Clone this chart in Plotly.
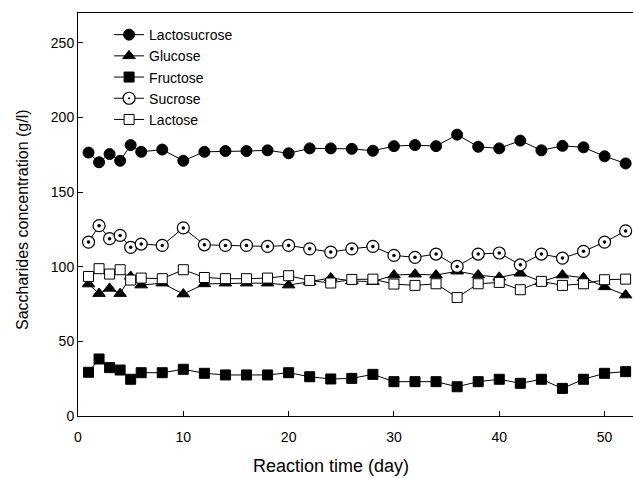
import plotly.graph_objects as go

days = [1, 2, 3, 4, 5, 6, 8, 10, 12, 14, 16, 18, 20, 22, 24, 26, 28, 30, 32, 34, 36, 38, 40, 42, 44, 46, 48, 50, 52]

lactosucrose = [176.5, 170, 175.5, 171, 181.5, 177, 178.5, 171, 177, 177.5, 177.5, 178, 176, 179.3, 179.3, 179, 177.7, 180.8, 181.5, 180.8, 188.5, 180.4, 179.3, 184.5, 178, 181, 180, 174, 169.2]
glucose = [88.4, 82, 85.5, 82, 93.5, 87.7, 89, 81.7, 88.5, 89, 89, 89, 87.7, 90, 92.5, 90.5, 90, 94.4, 95, 94.4, 97, 94.4, 92.9, 95.6, 90, 94.4, 92.6, 86.5, 81]
fructose = [29.3, 38.2, 32.4, 30.8, 24.6, 29, 29, 31.3, 28.6, 27.5, 27.5, 27.5, 29, 26.3, 24.8, 25.2, 27.9, 23, 23, 23, 19.6, 23, 24.6, 21.9, 24.6, 18.5, 24.6, 28.6, 29.7]
sucrose = [116.5, 127.5, 118.8, 121, 113, 115.2, 114.3, 126, 114.7, 114.3, 114.3, 113.6, 114.3, 112, 109.8, 112, 113.6, 107.6, 106.3, 108.5, 100.2, 108.5, 109.2, 101.3, 108.5, 105.8, 110.3, 116.5, 124]
lactose = [93.5, 98.7, 95.1, 98, 91.1, 92.4, 92, 98, 92.8, 92, 92, 92.4, 94, 90.8, 89.1, 91.5, 91.7, 88.4, 87.5, 88.6, 79.4, 88.6, 89.5, 84.6, 90.2, 87.5, 88.6, 91.3, 91.7]

names = ["Lactosucrose", "Glucose", "Fructose", "Sucrose", "Lactose"]
x_ticks = [0, 10, 20, 30, 40, 50]
y_ticks = [0, 50, 100, 150, 200, 250]
x_range = [0, 52.7]
y_range = [0, 270]

styles = [
    dict(symbol="circle", size=11, color="black", line=dict(color="black", width=1)),
    dict(symbol="triangle-up", size=11, color="black", line=dict(color="black", width=1)),
    dict(symbol="square", size=10, color="black", line=dict(color="black", width=1)),
    dict(symbol="circle-dot", size=12, color="white", line=dict(color="black", width=1.2)),
    dict(symbol="square", size=10, color="white", line=dict(color="black", width=1)),
]

fig = go.Figure()
for name, vals, st in zip(names, [lactosucrose, glucose, fructose, sucrose, lactose], styles):
    fig.add_trace(go.Scatter(
        x=days, y=vals, name=name, mode="lines+markers",
        line=dict(color="black", width=1),
        marker=st,
        cliponaxis=False,
    ))
    if name == "Sucrose":
        fig.add_trace(go.Scatter(
            x=days, y=vals, mode="markers", showlegend=False, hoverinfo="skip",
            marker=dict(symbol="circle", size=3.5, color="black"),
            cliponaxis=False,
        ))

# invisible trace on overlay axes so they render inside ticks
fig.add_trace(go.Scatter(x=[x_range[0]], y=[y_range[0]], xaxis="x2", yaxis="y2",
                         mode="markers", marker=dict(opacity=0), showlegend=False,
                         hoverinfo="skip"))

font = dict(family="Liberation Sans, Arial, sans-serif", color="black")

fig.update_layout(
    width=633, height=478,
    margin=dict(l=78, r=0, t=13, b=62),
    paper_bgcolor="white", plot_bgcolor="white",
    font=dict(size=14, **font),
    showlegend=True,
    legend=dict(x=0.056, y=0.985, xanchor="left", yanchor="top",
                bgcolor="rgba(0,0,0,0)", font=dict(size=14, **font),
                tracegroupgap=0),
    xaxis=dict(range=x_range, tickvals=x_ticks, ticktext=[str(v) for v in x_ticks],
               ticks="outside", ticklen=8, tickcolor="rgba(0,0,0,0)", showgrid=False, zeroline=False,
               showline=True, linecolor="black", linewidth=1, mirror=True,
               tickfont=dict(size=14, **font)),
    yaxis=dict(range=y_range, tickvals=y_ticks, ticktext=[str(v) for v in y_ticks],
               ticks="", showgrid=False, zeroline=False,
               showline=True, linecolor="black", linewidth=1,
               tickfont=dict(size=14, **font)),
    xaxis2=dict(range=x_range, overlaying="x", tickvals=x_ticks, ticks="inside", ticklen=5,
                tickcolor="black", showticklabels=False, showgrid=False, zeroline=False,
                showline=False, side="bottom", anchor="y2"),
    yaxis2=dict(range=y_range, overlaying="y", tickvals=y_ticks, ticks="inside", ticklen=5,
                tickcolor="black", showticklabels=False, showgrid=False, zeroline=False,
                showline=False, side="left", anchor="x2"),
    annotations=[
        dict(text="Reaction time (day)", xref="paper", yref="paper",
             x=(331 - 78) / 555, y=-(466 - 416) / 403, xanchor="center", yanchor="middle",
             showarrow=False, font=dict(size=18, **font)),
        dict(text="Saccharides concentration (g/l)", xref="paper", yref="paper",
             x=-(78 - 22) / 555, y=(416 - 220) / 403, xanchor="center", yanchor="middle",
             textangle=-90, showarrow=False, font=dict(size=16, **font)),
    ],
)

fig.write_html("out.html")
